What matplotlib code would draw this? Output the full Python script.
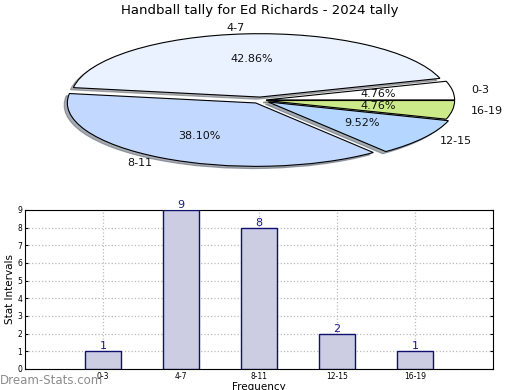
import matplotlib
matplotlib.use("Agg")
import matplotlib.pyplot as plt

# data
categories = ["0-3", "4-7", "8-11", "12-15", "16-19"]
counts = [1, 9, 8, 2, 1]
pie_colors = ["#ffffff", "#eaf2ff", "#c3d8ff", "#b5d6ff", "#cdea8a"]
explode = [0.03, 0.05, 0.05, 0.05, 0.03]
y_ticks = list(range(0, 10))

fig = plt.figure(figsize=(5.2, 3.9), dpi=100)

# === 饼图（椭圆）===
ax_pie = fig.add_axes([0.066, 0.548, 0.87, 0.39])
wedges, texts, autotexts = ax_pie.pie(
    counts, labels=categories, colors=pie_colors, explode=explode,
    autopct="%.2f%%", pctdistance=0.6, labeldistance=1.1,
    startangle=0, counterclock=True,
    shadow=dict(ox=-0.012, oy=-0.025, shade=0.6),
    wedgeprops=dict(edgecolor="black", linewidth=0.8),
    textprops=dict(fontsize=8, color="#111111"))
ax_pie.set_aspect("auto")
ax_pie.set_xlim(-1.2, 1.2)
ax_pie.set_ylim(-1.2, 1.2)
ax_pie.axis("off")
fig.text(0.5, 0.972, "Handball tally for Ed Richards - 2024 tally",
         ha="center", va="center", fontsize=9.5)

# === 柱状图 ===
ax = fig.add_axes([0.048, 0.054, 0.9, 0.408])
x = list(range(len(categories)))
ax.bar(x, counts, width=0.46, color="#ccccE2", edgecolor="#101070",
       linewidth=1.0, zorder=3)
for xi, c in zip(x, counts):
    ax.text(xi, c, str(c), ha="center", va="bottom", fontsize=8,
            color="#1a1a8c", zorder=4)
ax.set_xlim(-1, 5)
ax.set_ylim(0, 9)
ax.set_xticks(x)
ax.set_xticklabels(categories, fontsize=5.5)
ax.set_yticks(y_ticks)
ax.set_yticklabels([str(t) for t in y_ticks], fontsize=5.5)
ax.tick_params(axis="both", direction="in", length=2, pad=2, right=True)
ax.grid(True, linestyle=":", color="#bbbbbb", linewidth=0.9, zorder=0)
ax.set_ylabel("Stat Intervals", fontsize=7.5, labelpad=2)
ax.set_xlabel("Frequency", fontsize=7.5, labelpad=1)

fig.text(0.0, 0.025, "Dream-Stats.com", fontsize=8.5, color="#8c8c8c",
         ha="left", va="center")

fig.savefig("out.png", dpi=100)
plt.close(fig)
